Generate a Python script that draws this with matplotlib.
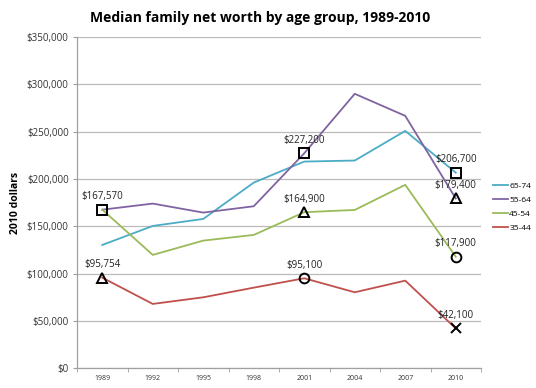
import matplotlib.pyplot as plt
import numpy as np

# data
years = ['1989', '1992', '1995', '1998', '2001', '2004', '2007', '2010']
age_65_74 = [130300, 150400, 157800, 196200, 218400, 219500, 250800, 206700]
age_55_64 = [167570, 174000, 164500, 171200, 227200, 290000, 266700, 179400]
age_45_54 = [167570, 119800, 134900, 140900, 164900, 167300, 193800, 117900]
age_35_44 = [95754, 68000, 75000, 85200, 95100, 80300, 92600, 42100]

# highlighted points: (year index, value, marker)
callout_idx = [0, 0, 4, 4, 4, 7, 7, 7, 7]
callout_val = [167570, 95754, 227200, 164900, 95100, 206700, 179400, 117900, 42100]
callout_mark = ['s', '^', 's', '^', 'o', 's', '^', 'o', 'x']

plt.rcParams['font.family'] = ['Open Sans', 'DejaVu Sans']

fig = plt.figure(figsize=(5.36, 3.88), dpi=100)
ax = fig.add_axes([0.1437, 0.0508, 0.7537, 0.8538])

x = np.arange(len(years))
ax.plot(x, age_65_74, color='#4BACC6', lw=1.3, label='65-74')
ax.plot(x, age_55_64, color='#8064A2', lw=1.3, label='55-64')
ax.plot(x, age_45_54, color='#9BBB59', lw=1.3, label='45-54')
ax.plot(x, age_35_44, color='#C0504D', lw=1.3, label='35-44')

for i, v, m in zip(callout_idx, callout_val, callout_mark):
    ax.plot(x[i], v, marker=m, ms=7, mfc='none',
            mec='black', mew=1.4, ls='none', zorder=5)
    ax.annotate('${:,}'.format(v), (x[i], v), xytext=(0, 9.5),
                textcoords='offset points', ha='center', va='center',
                fontsize=7, color='#222222')

ax.set_xlim(-0.5, 7.5)
ax.set_ylim(0, 350000)
ax.set_yticks(np.arange(0, 350001, 50000))
ax.set_yticklabels(['${:,}'.format(v) for v in range(0, 350001, 50000)],
                   fontsize=7, color='#333333')
ax.set_xticks(x)
ax.set_xticklabels(years, fontsize=5, color='#333333')
ax.set_xticks(np.arange(-0.5, 8, 1), minor=True)
ax.tick_params(axis='x', which='major', length=0, pad=5)
ax.tick_params(axis='x', which='minor', length=3, color='#A0A0A0')
ax.tick_params(axis='y', length=3, color='#A0A0A0', pad=3)

ax.grid(axis='y', color='#BBBBBB', lw=0.9)
ax.set_axisbelow(True)
for s in ['top', 'right']:
    ax.spines[s].set_visible(False)
for s in ['left', 'bottom']:
    ax.spines[s].set_color('#A0A0A0')
    ax.spines[s].set_linewidth(0.9)

ax.set_ylabel('2010 dollars', fontsize=7.5, fontweight='bold', labelpad=4)
fig.suptitle('Median family net worth by age group, 1989-2010',
             x=0.485, y=0.972, fontsize=10, fontweight='bold')

ax.legend(loc='center left', bbox_to_anchor=(1.012, 0.487), frameon=False,
          fontsize=6, handlelength=1.8, handletextpad=0.1, labelspacing=0.75,
          borderaxespad=0.5)

fig.savefig('out.png', dpi=100)
